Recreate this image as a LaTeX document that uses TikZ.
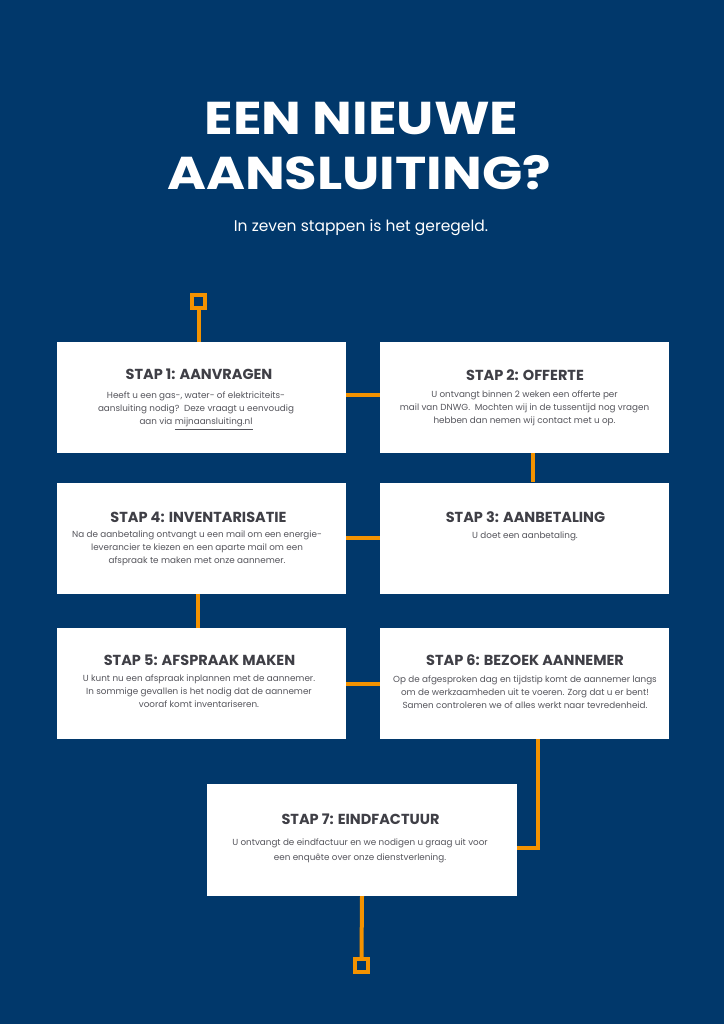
\documentclass[tikz,border=0pt]{standalone}
\usepackage{fontspec}
\setmainfont{Poppins}
\newfontfamily\headfont{Poppins}
\newfontfamily\titlefont[FakeStretch=1.15]{Poppins}
\definecolor{navy}{HTML}{01386B}
\definecolor{orng}{HTML}{F39200}
\definecolor{headgray}{HTML}{3F3F46}
\definecolor{bodygray}{HTML}{55555C}
\begin{document}
\begin{tikzpicture}[x=1pt,y=-1pt,
 box/.style={fill=white,draw=none,inner sep=0,minimum width=289pt,minimum height=111pt},
 heading/.style={anchor=base,inner sep=0,text=headgray,font=\headfont\bfseries\fontsize{14.5}{17}\selectfont},
 body/.style={anchor=north,inner sep=0,align=center,text=bodygray,font=\fontsize{8.8}{13}\selectfont},
 conn/.style={draw=orng,line width=4pt},
 endsq/.style={draw=orng,line width=4pt,fill=navy,minimum size=13pt,inner sep=0},
 titletext/.style={anchor=base,inner sep=0,text=white,font=\titlefont\bfseries\fontsize{46}{55}\selectfont},
]
\fill[navy] (0,0) rectangle (724,1024);
\useasboundingbox (0,0) rectangle (724,1024);

% title
\node[titletext] (t1) at (361.5,135) {EEN NIEUWE};
\node[titletext] (t2) at (359,190) {AANSLUITING?};
\node[anchor=base,inner sep=0,text=white,font=\fontsize{15.5}{19}\selectfont] (sub) at (361,232) {In zeven stappen is het geregeld.};

% boxes
\node[box] (b1) at (201.5,397.5) {};
\node[box] (b2) at (524.5,397.5) {};
\node[box] (b4) at (201.5,538) {};
\node[box] (b3) at (524.5,538) {};
\node[box] (b5) at (201.5,683.5) {};
\node[box] (b6) at (524.5,683.5) {};
\node[box,minimum width=310pt,minimum height=112pt] (b7) at (362,840) {};

% end squares
\node[endsq] (sq1) at (198.5,301.5) {};
\node[endsq] (sq2) at (361.5,965.5) {};

% connectors
\draw[conn] (sq1.south) -- (sq1.south |- b1.north);
\draw[conn] ([yshift=2.5pt]b1.east) -- ([yshift=2.5pt]b2.west);
\draw[conn] ([xshift=8.5pt]b2.south) -- ([xshift=8.5pt]b3.north);
\draw[conn] (b3.west) -- (b4.east);
\draw[conn] ([xshift=-3.5pt]b4.south) -- ([xshift=-3.5pt]b5.north);
\draw[conn] (b5.east) -- (b6.west);
\draw[conn] ([xshift=13.5pt]b6.south) |- ([yshift=-8pt]b7.east);
\draw[conn] (b7.south) -- (sq2.north);

% texts
\node[heading] (h1) at (199,379) {STAP 1: AANVRAGEN};
\node[body] (x1) at (196,392) {Heeft u een gas-, water- of elektriciteits-\\aansluiting nodig?\ \ Deze vraagt u eenvoudig\\aan via \underline{mijnaansluiting.nl}};

\node[heading] (h2) at (525,380) {STAP 2: OFFERTE};
\node[body] (x2) at (524.5,391) {U ontvangt binnen 2 weken een offerte per\\mail van DNWG.\ \ Mochten wij in de tussentijd nog vragen\\hebben dan nemen wij contact met u op.};

\node[heading] (h3) at (525.5,522) {STAP 3: AANBETALING};
\node[body] (x3) at (525,532) {U doet een aanbetaling.};

\node[heading] (h4) at (198.5,522) {STAP 4: INVENTARISATIE};
\node[body] (x4) at (197,531) {Na de aanbetaling ontvangt u een mail om een energie-\\leverancier te kiezen en een aparte mail om een\\afspraak te maken met onze aannemer.};

\node[heading] (h5) at (199.5,665) {STAP 5: AFSPRAAK MAKEN};
\node[body] (x5) at (199,675) {U kunt nu een afspraak inplannen met de aannemer.\\In sommige gevallen is het nodig dat de aannemer\\vooraf komt inventariseren.};

\node[heading] (h6) at (525,665) {STAP 6: BEZOEK AANNEMER};
\node[body] (x6) at (525,676) {Op de afgesproken dag en tijdstip komt de aannemer langs\\om de werkzaamheden uit te voeren. Zorg dat u er bent!\\Samen controleren we of alles werkt naar tevredenheid.};

\node[heading] (h7) at (360.5,824) {STAP 7: EINDFACTUUR};
\node[body,font=\fontsize{8.8}{15}\selectfont] (x7) at (360,839) {U ontvangt de eindfactuur en we nodigen u graag uit voor\\een enquête over onze dienstverlening.};
\end{tikzpicture}
\end{document}
